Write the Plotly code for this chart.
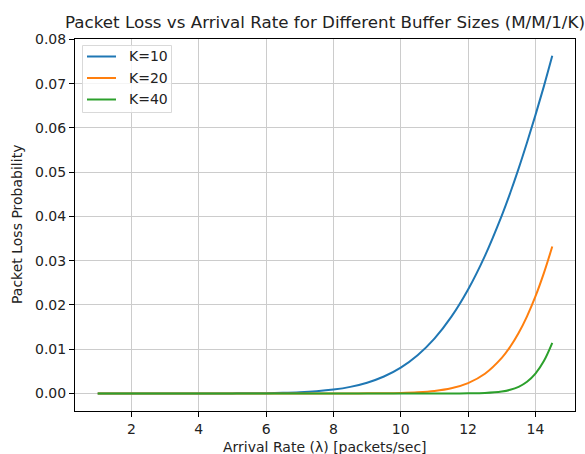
import plotly.graph_objects as go

# Arrival rate (packets/sec)
arrival_rate = [1.0, 1.5, 2.0, 2.5, 3.0, 3.5, 4.0, 4.5, 5.0, 5.5, 6.0, 6.5, 7.0, 7.5,
                8.0, 8.5, 9.0, 9.5, 10.0, 10.5, 11.0, 11.5, 12.0, 12.5, 13.0,
                13.25, 13.5, 13.75, 14.0, 14.25, 14.5]

# Packet loss probability
loss_k10 = [0.0, 0.0, 0.0, 0.0, 0.0, 0.0000004, 0.0000013, 0.0000041, 0.0000113, 0.000028,
            0.000063, 0.000132, 0.00026, 0.00049, 0.00087, 0.00148, 0.00243, 0.00383,
            0.00585, 0.00865, 0.0124, 0.0173, 0.0235, 0.0311, 0.0402,
            0.0453, 0.0508, 0.0567, 0.0629, 0.0694, 0.0763]
loss_k20 = [0.0, 0.0, 0.0, 0.0, 0.0, 0.0, 0.0, 0.0, 0.0, 0.0,
            0.0, 0.0, 0.0, 0.0000005, 0.0000016, 0.000005, 0.0000146, 0.0000395,
            0.0001, 0.00024, 0.00054, 0.00115, 0.00233, 0.00444, 0.00802,
            0.01054, 0.01365, 0.01743, 0.02192, 0.02718, 0.0332]
loss_k40 = [0.0, 0.0, 0.0, 0.0, 0.0, 0.0, 0.0, 0.0, 0.0, 0.0,
            0.0, 0.0, 0.0, 0.0, 0.0, 0.0, 0.0, 0.0,
            0.0, 0.0, 0.0000011, 0.0000057, 0.0000266, 0.000113, 0.000437,
            0.00082, 0.0015, 0.00264, 0.00449, 0.00732, 0.01144]

series_names = ["K=10", "K=20", "K=40"]
series_values = [loss_k10, loss_k20, loss_k40]
colors = ["#1f77b4", "#ff7f0e", "#2ca02c"]

x_ticks = [2, 4, 6, 8, 10, 12, 14]
y_ticks = [0.0, 0.01, 0.02, 0.03, 0.04, 0.05, 0.06, 0.07, 0.08]

FONT = "DejaVu Sans"
TXT = "#222222"

# plot area in pixels
L, R, T, B = 75, 575, 39, 411
W, H = R - L, B - T


def px(x):
    return (x - L) / W


def py(y):
    return (B - y) / H


fig = go.Figure()
for name, vals, c in zip(series_names, series_values, colors):
    fig.add_trace(go.Scatter(
        x=arrival_rate, y=vals, mode="lines", name=name, showlegend=False,
        line=dict(color=c, width=2, shape="spline", smoothing=1.0),
    ))

axis_common = dict(
    showline=True, linecolor="black", linewidth=1, mirror=True,
    ticks="outside", ticklen=5, tickwidth=1, tickcolor="black",
    showgrid=True, gridcolor="#cccccc", gridwidth=1, zeroline=False,
    tickfont=dict(family=FONT, size=14, color=TXT),
)

# legend drawn manually (matplotlib style)
shapes = [dict(type="rect", xref="paper", yref="paper",
               x0=px(82.5), x1=px(171.5), y0=py(112.5), y1=py(45.5),
               fillcolor="rgba(255,255,255,0.8)", line=dict(color="#d9d9d9", width=1),
               layer="above")]
annotations = []
row_y = [56.5, 78, 99.5]
for name, c, ry in zip(series_names, colors, row_y):
    shapes.append(dict(type="line", xref="paper", yref="paper",
                       x0=px(87), x1=px(116), y0=py(ry), y1=py(ry),
                       line=dict(color=c, width=2), layer="above"))
    annotations.append(dict(text=name, xref="paper", yref="paper",
                            x=px(127), y=py(ry), xanchor="left", yanchor="middle",
                            showarrow=False, font=dict(family=FONT, size=14, color=TXT)))

annotations += [
    dict(text="Arrival Rate (λ) [packets/sec]", xref="paper", yref="paper",
         x=0.5, y=py(447), xanchor="center", yanchor="middle",
         showarrow=False, font=dict(family=FONT, size=14, color=TXT)),
    dict(text="Packet Loss Probability", xref="paper", yref="paper",
         x=px(17), y=0.5, xanchor="center", yanchor="middle", textangle=-90,
         showarrow=False, font=dict(family=FONT, size=14, color=TXT)),
]

fig.update_layout(
    width=585, height=454,
    margin=dict(l=L, r=585 - R, t=T, b=454 - B),
    paper_bgcolor="white", plot_bgcolor="white",
    font=dict(family=FONT, color=TXT),
    showlegend=False,
    title=dict(
        text="Packet Loss vs Arrival Rate for Different Buffer Sizes (M/M/1/K)",
        x=(L + R) / 2 / 585, xanchor="center",
        y=1 - 22 / 454, yanchor="middle",
        font=dict(family=FONT, size=16.7, color=TXT),
    ),
    xaxis=dict(range=[0.325, 15.175], tickvals=x_ticks, **axis_common),
    yaxis=dict(range=[-0.00397, 0.0801], tickvals=y_ticks, tickformat=".2f", **axis_common),
    shapes=shapes,
    annotations=annotations,
)

fig.write_html("out.html")
